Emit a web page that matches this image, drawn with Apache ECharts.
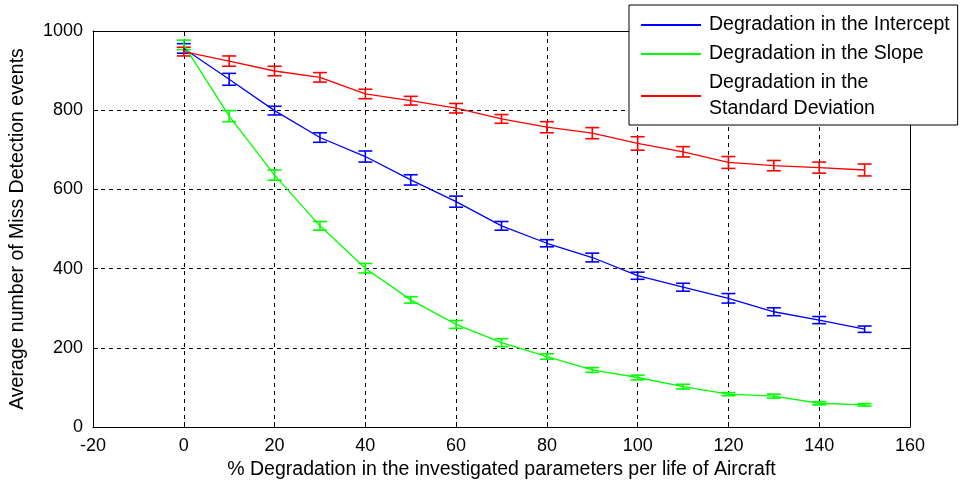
<!DOCTYPE html>
<html>
<head>
<meta charset="utf-8">
<script src="https://cdn.jsdelivr.net/npm/echarts@6/dist/echarts.min.js"></script>
<style>
  html, body { margin: 0; padding: 0; background: #fff; }
  #chart { width: 962px; height: 487px; }
</style>
</head>
<body>
<div id="chart"></div>
<script>
const xValues = [0, 10, 20, 30, 40, 50, 60, 70, 80, 90, 100, 110, 120, 130, 140, 150];

const interceptMean = [956, 878, 799, 731, 683, 624, 569, 508, 464, 428, 382, 353, 325, 291, 270, 247];
const interceptErr = [12, 15, 11, 12, 14, 13, 14, 11, 9, 11, 9, 10, 12, 10, 9, 8];

const slopeMean = [965, 785, 636, 508, 401, 321, 259, 213, 178, 144, 125, 102, 83, 78, 60, 56];
const slopeErr = [12, 14, 13, 11, 12, 8, 10, 10, 7, 6, 6, 6, 4, 5, 4, 3];

const stdMean = [948, 924, 899, 883, 841, 824, 805, 778, 757, 742, 716, 695, 668, 660, 655, 649];
const stdErr = [11, 13, 12, 12, 12, 11, 12, 11, 14, 14, 17, 13, 15, 13, 14, 15];

const seriesNames = [
  'Degradation in the Intercept',
  'Degradation in the Slope',
  'Degradation in the\nStandard Deviation',
];
const seriesColors = ['#0000ff', '#00ff00', '#ff0000'];

const xTicks = { min: -20, max: 160, interval: 20 };
const yTicks = { min: 0, max: 1000, interval: 200 };

const font = 'Liberation Sans, Arial, sans-serif';

function pairs(mean) {
  return xValues.map((x, i) => [x, mean[i]]);
}
function triples(mean, err) {
  return xValues.map((x, i) => [x, mean[i], err[i]]);
}

function errorBar(color) {
  return function (params, api) {
    const x = api.value(0);
    const y = api.value(1);
    const e = api.value(2);
    const top = api.coord([x, y + e]);
    const bot = api.coord([x, y - e]);
    const mid = api.coord([x, y]);
    const w = 7;
    const style = { stroke: color, lineWidth: 1.6 };
    return {
      type: 'group',
      children: [
        { type: 'line', shape: { x1: mid[0], y1: top[1], x2: mid[0], y2: bot[1] }, style },
        { type: 'line', shape: { x1: mid[0] - w, y1: top[1], x2: mid[0] + w, y2: top[1] }, style },
        { type: 'line', shape: { x1: mid[0] - w, y1: bot[1], x2: mid[0] + w, y2: bot[1] }, style },
      ],
    };
  };
}

const means = [interceptMean, slopeMean, stdMean];
const errs = [interceptErr, slopeErr, stdErr];

const series = [];
means.forEach((m, i) => {
  series.push({
    type: 'line',
    name: seriesNames[i],
    data: pairs(m),
    symbol: 'none',
    color: seriesColors[i],
    lineStyle: { width: 1.3, color: seriesColors[i] },
    z: 3,
  });
  series.push({
    type: 'custom',
    name: seriesNames[i] + ' err',
    data: triples(m, errs[i]),
    renderItem: errorBar(seriesColors[i]),
    encode: { x: 0, y: 1 },
    z: 3,
  });
});

const titleText = { fontFamily: font, fontSize: 19.5, color: '#000' };
const tickText = { fontFamily: font, fontSize: 18, color: '#000' };
const dashed = { show: true, lineStyle: { color: '#000', type: [4, 4], width: 1 } };
const frameLine = { show: true, onZero: false, lineStyle: { color: '#000', width: 1 } };
const innerTick = { show: true, inside: true, length: 5, lineStyle: { color: '#000' } };

const chart = echarts.init(document.getElementById('chart'));
chart.setOption({
  animation: false,
  backgroundColor: '#fff',
  grid: { left: 92, right: 52, top: 31, bottom: 60 },
  legend: {
    orient: 'vertical',
    left: 629,
    top: 5,
    backgroundColor: '#fff',
    borderColor: '#000',
    borderWidth: 1,
    borderRadius: 0,
    padding: [7, 8, 3, 12],
    itemWidth: 60,
    itemHeight: 2,
    itemGap: 3,
    icon: 'rect',
    textStyle: { ...titleText, lineHeight: 26, padding: [0, 0, 0, 3] },
    data: seriesNames,
  },
  xAxis: [
    {
      type: 'value',
      min: xTicks.min,
      max: xTicks.max,
      interval: xTicks.interval,
      name: '% Degradation in the investigated parameters per life of Aircraft',
      nameLocation: 'middle',
      nameGap: 32,
      nameTextStyle: titleText,
      axisLine: frameLine,
      axisTick: innerTick,
      axisLabel: { ...tickText, margin: 10 },
      splitLine: dashed,
    },
    {
      type: 'value',
      position: 'top',
      min: xTicks.min,
      max: xTicks.max,
      interval: xTicks.interval,
      axisLine: frameLine,
      axisTick: innerTick,
      axisLabel: { show: false },
      splitLine: { show: false },
    },
  ],
  yAxis: [
    {
      type: 'value',
      min: yTicks.min,
      max: yTicks.max,
      interval: yTicks.interval,
      name: 'Average number of Miss Detection events',
      nameLocation: 'middle',
      nameGap: 65,
      nameTextStyle: titleText,
      axisLine: frameLine,
      axisTick: innerTick,
      axisLabel: { ...tickText, margin: 10, formatter: (v) => String(v) },
      splitLine: dashed,
    },
    {
      type: 'value',
      position: 'right',
      min: yTicks.min,
      max: yTicks.max,
      interval: yTicks.interval,
      axisLine: frameLine,
      axisTick: innerTick,
      axisLabel: { show: false },
      splitLine: { show: false },
    },
  ],
  series: series,
});
</script>
</body>
</html>
